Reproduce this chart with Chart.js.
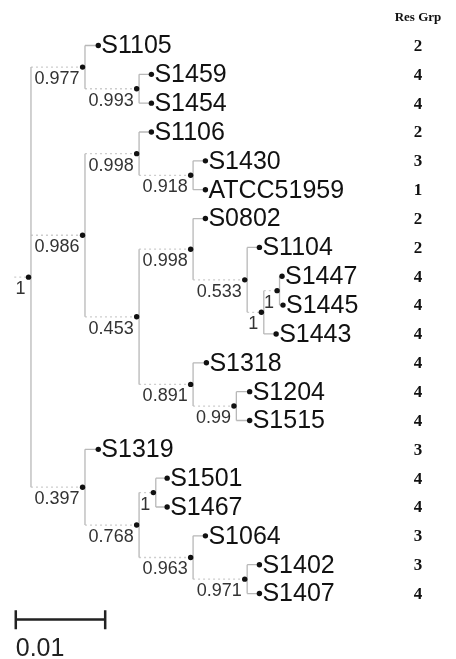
<!DOCTYPE html>
<html>
<head>
<meta charset="utf-8">
<script src="https://cdn.jsdelivr.net/npm/chart.js@4.4.0/dist/chart.umd.min.js"></script>
<style>
    html, body { margin: 0; padding: 0; background: #fff; }
    #wrap { width: 456px; height: 659px; }
</style>
</head>
<body>
<div id="wrap"><canvas id="tree" width="456" height="659"></canvas></div>
<script>
// Leaves, top to bottom
const leafNames = ['S1105', 'S1459', 'S1454', 'S1106', 'S1430', 'ATCC51959', 'S0802', 'S1104', 'S1447', 'S1445',
                   'S1443', 'S1318', 'S1204', 'S1515', 'S1319', 'S1501', 'S1467', 'S1064', 'S1402', 'S1407'];
const resGroups = [2, 4, 4, 2, 3, 1, 2, 2, 4, 4, 4, 4, 4, 4, 3, 4, 4, 3, 3, 4];
// distance from root, in units of 0.001
const leafDist = [7.8, 13.74, 13.74, 13.74, 19.78, 19.78, 19.78, 25.82, 28.35, 28.46,
                  27.69, 19.89, 24.73, 24.73, 7.8, 15.5, 15.5, 19.78, 25.82, 25.82];
const leafParent = [1, 2, 2, 4, 5, 5, 7, 8, 10, 10, 9, 11, 12, 12, 13, 15, 15, 16, 17, 17];

// Internal nodes (parent always listed before its children)
const nodeSupport = ['1', '0.977', '0.993', '0.986', '0.998', '0.918', '0.453', '0.998', '0.533', '1',
                     '1', '0.891', '0.99', '0.397', '0.768', '1', '0.963', '0.971'];
const nodeParent = [-1, 0, 1, 0, 3, 4, 3, 6, 7, 8, 9, 6, 11, 0, 13, 14, 14, 16];
const nodeDist = [0, 6.04, 12.09, 6.04, 12.09, 18.13, 12.09, 18.13, 24.18, 26.04,
                  27.8, 18.13, 22.97, 6.04, 12.09, 13.96, 18.13, 24.18];

const scaleBarLength = 10;   // 0.01
const scaleBarLabel = '0.01';
const colHeader = 'Res Grp';

// Work out node heights: midway between outermost children
const nodeY = new Array(nodeDist.length);
const nodeKids = nodeDist.map(() => []);
leafParent.forEach((p, i) => nodeKids[p].push({ x: leafDist[i], y: i, leaf: true }));
for (let n = nodeDist.length - 1; n >= 0; n--) {
    const ys = nodeKids[n].map(k => k.y);
    nodeY[n] = (Math.min(...ys) + Math.max(...ys)) / 2;
    if (nodeParent[n] >= 0) {
        nodeKids[nodeParent[n]].push({ x: nodeDist[n], y: nodeY[n], leaf: false });
    }
}

// Build branch segments
const gap = { x: null, y: null };
const solid = [];
const dotted = [];
const off = 0.27; // vertical sits just right of the node dot
nodeKids.forEach((kids, n) => {
    const vx = nodeDist[n] + off;
    const ys = kids.map(k => k.y);
    solid.push({ x: vx, y: Math.min(...ys) }, { x: vx, y: Math.max(...ys) }, gap);
    kids.forEach(k => {
        const seg = [{ x: vx, y: k.y }, { x: k.x, y: k.y }, gap];
        (k.leaf ? solid : dotted).push(...seg);
    });
});
dotted.push({ x: -1.6, y: nodeY[0] }, { x: 0, y: nodeY[0] }, gap);

const dots = nodeDist.map((d, n) => ({ x: d, y: nodeY[n] }))
    .concat(leafDist.map((d, i) => ({ x: d, y: i })));

// Scale bar
const barX = -1.43, barY = 19.9;
const scaleBar = [
    { x: barX, y: barY }, { x: barX + scaleBarLength, y: barY }, gap,
    { x: barX, y: 19.58 }, { x: barX, y: 20.24 }, gap,
    { x: barX + scaleBarLength, y: 19.58 }, { x: barX + scaleBarLength, y: 20.24 }
];

// Text labels
const labelPlugin = {
    id: 'treeLabels',
    afterDatasetsDraw(chart) {
        const { ctx, scales: { x, y } } = chart;
        ctx.save();
        ctx.textBaseline = 'middle';

        // leaf names
        ctx.fillStyle = '#111';
        ctx.font = '25px "Liberation Sans", Arial, sans-serif';
        ctx.textAlign = 'left';
        leafNames.forEach((name, i) => {
            ctx.fillText(name, x.getPixelForValue(leafDist[i]) + 3, y.getPixelForValue(i) + 1);
        });

        // support values
        ctx.fillStyle = '#333';
        ctx.font = '18px "Liberation Sans", Arial, sans-serif';
        ctx.textAlign = 'right';
        nodeSupport.forEach((s, n) => {
            ctx.fillText(s, x.getPixelForValue(nodeDist[n]) - 3, y.getPixelForValue(nodeY[n]) + 12);
        });

        // resistance group column
        const colX = chart.width - 38;
        ctx.fillStyle = '#111';
        ctx.textAlign = 'center';
        ctx.font = 'bold 13px "Liberation Serif", "Times New Roman", serif';
        ctx.fillText(colHeader, colX, y.getPixelForValue(-0.96));
        ctx.font = 'bold 17px "Liberation Serif", "Times New Roman", serif';
        resGroups.forEach((g, i) => ctx.fillText(String(g), colX, y.getPixelForValue(i) + 1));

        // scale bar label
        ctx.font = '25px "Liberation Sans", Arial, sans-serif';
        ctx.textAlign = 'left';
        ctx.fillStyle = '#222';
        ctx.fillText(scaleBarLabel, x.getPixelForValue(barX), y.getPixelForValue(20.92));
        ctx.restore();
    }
};

new Chart(document.getElementById('tree'), {
    type: 'scatter',
    data: {
        datasets: [
            {
                data: dots, showLine: false, pointRadius: 2.7, order: 0,
                backgroundColor: '#111', pointBackgroundColor: '#111', borderWidth: 0
            },
            {
                data: scaleBar, showLine: true, spanGaps: false, pointRadius: 0, order: 1,
                borderColor: '#222', borderWidth: 2.5
            },
            {
                data: solid, showLine: true, spanGaps: false, pointRadius: 0, order: 2,
                borderColor: '#b8b8b8', borderWidth: 1.3
            },
            {
                data: dotted, showLine: true, spanGaps: false, pointRadius: 0, order: 3,
                borderColor: '#cdcdcd', borderWidth: 1.3, borderDash: [2, 3]
            }
        ]
    },
    options: {
        responsive: false,
        animation: false,
        layout: { padding: 0 },
        plugins: { legend: { display: false }, tooltip: { enabled: false } },
        scales: {
            x: { type: 'linear', display: false, min: -2.747, max: 47.36 },
            y: { type: 'linear', display: false, reverse: true, min: -1.438, max: 21.13 }
        }
    },
    plugins: [labelPlugin]
});
</script>
</body>
</html>
